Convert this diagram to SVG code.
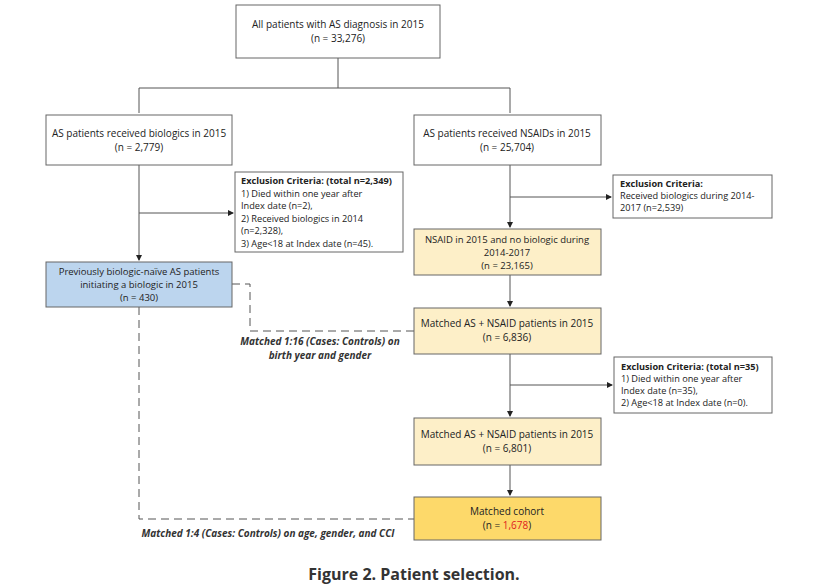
<svg xmlns="http://www.w3.org/2000/svg" width="829" height="588" viewBox="0 0 829 588">
<style>
text{font-family:"Open Sans","Liberation Sans",sans-serif;font-size:10px;fill:#222}
.c{text-anchor:middle}
.b{font-weight:bold}
.ex{font-size:9.2px}
.sm{font-size:9.5px}
.i{font-style:italic;font-weight:bold;fill:#333}
rect{stroke:#666;stroke-width:1}
.w{fill:#fff}.y{fill:#fdefc8}.bl{fill:#bcd5ee}.g{fill:#fdd96a}
.ln{stroke:#555;fill:none;stroke-width:1}
.d{stroke:#555;fill:none;stroke-width:1;stroke-dasharray:8,5}
</style>
<defs><marker id="a" markerWidth="6" markerHeight="6" refX="5" refY="3" orient="auto"><path d="M0,0L6,3L0,6z" fill="#222"/></marker></defs>
<g id="connectors">
<path class="ln" d="M338,58V88M139,88H510M139,88V113M510,88V113"/>
<path class="ln" d="M139,165V260" marker-end="url(#a)"/>
<path class="ln" d="M139,213H233" marker-end="url(#a)"/>
<path class="ln" d="M510,165V227" marker-end="url(#a)"/>
<path class="ln" d="M510,197H611" marker-end="url(#a)"/>
<path class="ln" d="M510,275V306" marker-end="url(#a)"/>
<path class="ln" d="M510,354V416" marker-end="url(#a)"/>
<path class="ln" d="M510,385H612" marker-end="url(#a)"/>
<path class="ln" d="M510,465V495" marker-end="url(#a)"/>
<path class="d" d="M232,284H250V331H414"/>
<path class="d" d="M139,307V519H414"/>
</g>
<g id="n1"><rect class="w" x="236" y="5" width="204" height="53"/><text class="c" x="338" y="28">All patients with AS diagnosis in 2015</text><text class="c" x="338" y="42">(n = 33,276)</text></g>
<g id="n2"><rect class="w" x="46" y="115" width="186" height="50"/><text class="c" x="139" y="137">AS patients received biologics in 2015</text><text class="c" x="139" y="151">(n = 2,779)</text></g>
<g id="n3"><rect class="w" x="414" y="115" width="187" height="50"/><text class="c" x="507" y="137">AS patients received NSAIDs in 2015</text><text class="c" x="507" y="151">(n = 25,704)</text></g>
<g id="e1"><rect class="w" x="235" y="172" width="168" height="80"/><text class="ex" x="241" y="184"><tspan class="b">Exclusion Criteria: (total n=2,349)</tspan><tspan x="241" dy="12.5">1) Died within one year after</tspan><tspan x="241" dy="12.5">Index date (n=2),</tspan><tspan x="241" dy="12.5">2) Received biologics in 2014</tspan><tspan x="241" dy="12.5">(n=2,328),</tspan><tspan x="241" dy="12.5">3) Age&lt;18 at Index date (n=45).</tspan></text></g>
<g id="n4"><rect class="bl" x="46" y="262" width="186" height="45"/><text class="c sm" x="139" y="275">Previously biologic-naïve AS patients</text><text class="c sm" x="139" y="288">initiating a biologic in 2015</text><text class="c sm" x="139" y="301">(n = 430)</text></g>
<g id="e2"><rect class="w" x="613" y="175" width="159" height="43"/><text class="ex" x="620" y="187"><tspan class="b">Exclusion Criteria:</tspan><tspan x="620" dy="12">Received biologics during 2014-</tspan><tspan x="620" dy="12">2017 (n=2,539)</tspan></text></g>
<g id="n5"><rect class="y" x="414" y="229" width="187" height="46"/><text class="c sm" x="507" y="243">NSAID in 2015 and no biologic during</text><text class="c sm" x="507" y="256">2014-2017</text><text class="c sm" x="507" y="269">(n = 23,165)</text></g>
<g id="n6"><rect class="y" x="414" y="308" width="187" height="46"/><text class="c" x="507" y="327">Matched AS + NSAID patients in 2015</text><text class="c" x="507" y="341">(n = 6,836)</text></g>
<g id="e3"><rect class="w" x="614" y="357" width="158" height="56"/><text class="ex" x="621" y="370"><tspan class="b">Exclusion Criteria: (total n=35)</tspan><tspan x="621" dy="12">1) Died within one year after</tspan><tspan x="621" dy="12">Index date (n=35),</tspan><tspan x="621" dy="12">2) Age&lt;18 at Index date (n=0).</tspan></text></g>
<g id="n7"><rect class="y" x="414" y="418" width="187" height="47"/><text class="c" x="507" y="438">Matched AS + NSAID patients in 2015</text><text class="c" x="507" y="452">(n = 6,801)</text></g>
<g id="n8"><rect class="g" x="414" y="497" width="187" height="43"/><text class="c" x="507" y="515">Matched cohort</text><text class="c" x="507" y="529">(n = <tspan fill="#e02020">1,678</tspan>)</text></g>
<text class="i c" x="320" y="345">Matched 1:16 (Cases: Controls) on</text>
<text class="i c" x="320" y="359">birth year and gender</text>
<text class="i c" x="268" y="537">Matched 1:4 (Cases: Controls) on age, gender, and CCI</text>
<text class="c" x="414" y="580" style="font-size:16px;font-weight:bold;fill:#333">Figure 2. Patient selection.</text>
</svg>
